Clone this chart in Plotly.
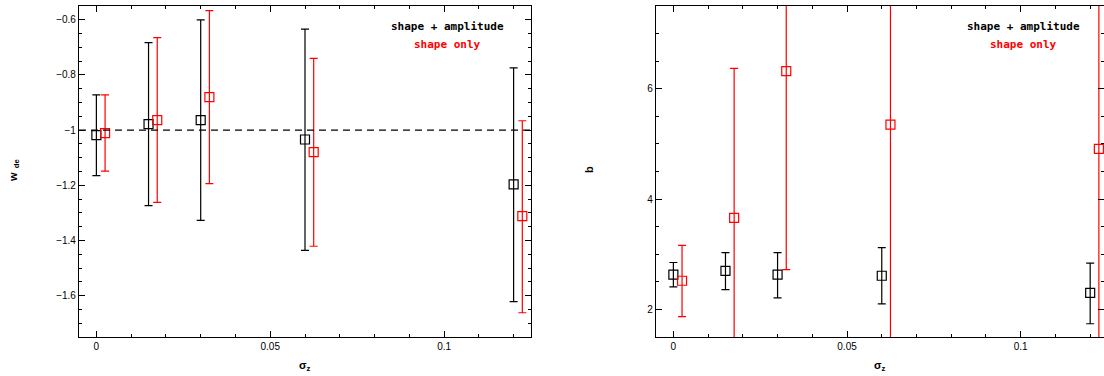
import plotly.graph_objects as go

# ---------------- data ----------------
sigma_z_full = [0.0, 0.015, 0.03, 0.06, 0.12]
sigma_z_shape = [0.0025, 0.0175, 0.0325, 0.0625, 0.1225]

# left panel: w_de
w_full = [-1.018, -0.978, -0.964, -1.034, -1.197]
w_full_hi = [-0.872, -0.683, -0.600, -0.634, -0.774]
w_full_lo = [-1.165, -1.274, -1.327, -1.436, -1.622]

w_shape = [-1.011, -0.964, -0.880, -1.080, -1.312]
w_shape_hi = [-0.872, -0.665, -0.567, -0.740, -0.966]
w_shape_lo = [-1.149, -1.262, -1.194, -1.421, -1.662]

# right panel: b
b_full = [2.63, 2.70, 2.63, 2.61, 2.30]
b_full_hi = [2.85, 3.03, 3.03, 3.12, 2.84]
b_full_lo = [2.41, 2.36, 2.21, 2.10, 1.74]

b_shape = [2.52, 3.66, 6.32, 5.35, 4.91]
b_shape_hi = [3.16, 6.37, 9.0, 10.0, 9.0]
b_shape_lo = [1.87, 1.0, 2.72, 1.0, 1.0]

w_fiducial = -1.0

x_tickvals = [0, 0.05, 0.1]
x_ticktext = ["0", "0.05", "0.1"]
w_tickvals = [-0.6, -0.8, -1.0, -1.2, -1.4, -1.6]
w_ticktext = ["\u22120.6", "\u22120.8", "\u22121", "\u22121.2", "\u22121.4", "\u22121.6"]
b_tickvals = [2, 4, 6]
b_ticktext = ["2", "4", "6"]

W, H = 1104, 376
FONT = "Liberation Sans"
LEG_FONT = "DejaVu Sans Mono"


def err(y, hi, lo):
    return ([h - v for v, h in zip(y, hi)], [v - l for v, l in zip(y, lo)])


fig = go.Figure()


def add_series(x, y, hi, lo, color, xa, ya):
    up, dn = err(y, hi, lo)
    fig.add_trace(go.Scatter(
        x=x, y=y, mode="markers", xaxis=xa, yaxis=ya, showlegend=False,
        marker=dict(symbol="square-open", size=9, color=color, line=dict(width=1.2, color=color)),
        error_y=dict(type="data", symmetric=False, array=up, arrayminus=dn,
                     color=color, thickness=1.2, width=4),
        cliponaxis=True,
    ))


add_series(sigma_z_full, w_full, w_full_hi, w_full_lo, "black", "x", "y")
add_series(sigma_z_shape, w_shape, w_shape_hi, w_shape_lo, "red", "x", "y")
add_series(sigma_z_full, b_full, b_full_hi, b_full_lo, "black", "x2", "y2")
add_series(sigma_z_shape, b_shape, b_shape_hi, b_shape_lo, "red", "x2", "y2")

# dashed fiducial line
fig.add_trace(go.Scatter(x=[-0.005, 0.125], y=[w_fiducial, w_fiducial], mode="lines",
                         xaxis="x", yaxis="y", showlegend=False,
                         line=dict(color="black", width=1.2, dash="7px,5px")))

ydom = [1 - 337 / H, 1 - 6 / H]

axis_common = dict(
    showgrid=False, zeroline=False, showline=True, linecolor="black", linewidth=1.2,
    mirror="allticks", ticks="inside", ticklen=6, tickwidth=1.2, tickcolor="black",
    tickfont=dict(family=FONT, size=10, color="black"),
)

fig.update_layout(
    width=W, height=H, margin=dict(l=0, r=0, t=0, b=0),
    paper_bgcolor="white", plot_bgcolor="white",
    xaxis=dict(axis_common, domain=[79 / W, 531 / W], range=[-0.005, 0.125], anchor="y",
               tickvals=x_tickvals, ticktext=x_ticktext,
               minor=dict(dtick=0.01, tick0=0, ticks="inside", ticklen=3, tickcolor="black", tickwidth=1)),
    yaxis=dict(axis_common, domain=ydom, range=[-1.75, -0.55], anchor="x",
               tickvals=w_tickvals, ticktext=w_ticktext,
               minor=dict(dtick=0.05, tick0=0, ticks="inside", ticklen=3, tickcolor="black", tickwidth=1)),
    xaxis2=dict(axis_common, domain=[656 / W, 1.0], range=[-0.005, (1104 - 673.3) / 3474], anchor="y2",
                tickvals=x_tickvals, ticktext=x_ticktext,
                minor=dict(dtick=0.01, tick0=0, ticks="inside", ticklen=3, tickcolor="black", tickwidth=1)),
    yaxis2=dict(axis_common, domain=ydom, range=[1.5, 7.5], anchor="x2",
                tickvals=b_tickvals, ticktext=b_ticktext,
                minor=dict(dtick=0.5, tick0=0, ticks="inside", ticklen=3, tickcolor="black", tickwidth=1)),
)

ann_font = dict(family=FONT, size=11, color="black")
leg_font = dict(family=LEG_FONT, size=11, color="black")
annotations = [
    # left legend
    dict(x=447 / W, y=1 - 26 / H, text="<b>shape + amplitude</b>", font=dict(leg_font)),
    dict(x=447 / W, y=1 - 45 / H, text="<b>shape only</b>", font=dict(leg_font, color="red")),
    # right legend
    dict(x=1023 / W, y=1 - 26 / H, text="<b>shape + amplitude</b>", font=dict(leg_font)),
    dict(x=1023 / W, y=1 - 45 / H, text="<b>shape only</b>", font=dict(leg_font, color="red")),
    # axis titles
    dict(x=305 / W, y=1 - 366 / H, text="<b>\u03c3<sub>z</sub></b>", font=dict(ann_font, size=11)),
    dict(x=880 / W, y=1 - 366 / H, text="<b>\u03c3<sub>z</sub></b>", font=dict(ann_font, size=11)),
    dict(x=14 / W, y=1 - 170 / H, text="<b>w<sub>  de</sub></b>", textangle=-90, font=dict(ann_font, size=11)),
    dict(x=589 / W, y=1 - 170 / H, text="<b>b</b>", textangle=-90, font=dict(ann_font, size=11)),
]
for a in annotations:
    a.update(xref="paper", yref="paper", showarrow=False, xanchor="center", yanchor="middle")
fig.update_layout(annotations=annotations)

fig.write_html("out.html")
